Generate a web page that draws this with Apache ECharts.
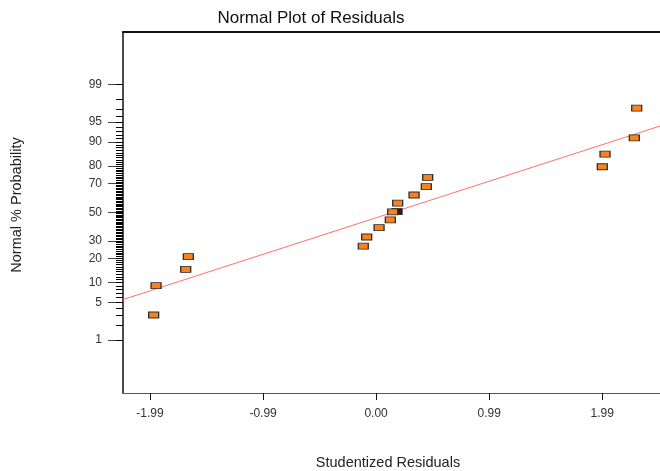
<!DOCTYPE html>
<html>
<head>
<meta charset="utf-8">
<script src="https://cdn.jsdelivr.net/npm/echarts@6/dist/echarts.min.js"></script>
<style>
  html, body { margin: 0; padding: 0; background: #fff; }
  #chart { width: 660px; height: 471px; }
</style>
</head>
<body>
<div id="chart"></div>
<script>
// Studentized residuals (sorted) and their normal % probability
const residuals = [-1.958, -1.937, -1.676, -1.653, -0.113, -0.083, 0.026, 0.125, 0.146,
                   0.190, 0.334, 0.442, 0.454, 1.991, 2.015, 2.273, 2.294];
const normalPct = [3.07, 9.06, 14.94, 20.9, 26.9, 32.6, 38.9, 44.4, 50.2,
                   56.6, 62.3, 67.9, 73.7, 79.6, 85.5, 91.2, 97.1];

// point drawn dark, mostly covered by the median marker
const shadedResiduals = [0.184];
const shadedPct = [50.5];

// reference line end points
const lineResiduals = [-2.228, 2.543];
const linePct = [5.6, 94.5];

// axis ticks
const xTickValues = [-1.99, -0.995, 0, 0.995, 1.99];
const xTickLabels = ['-1.99', '-0.99', '0.00', '0.99', '1.99'];
const yLabelPct = [1, 5, 10, 20, 30, 50, 70, 80, 90, 95, 99];
const yMinorPct = Array.from({ length: 99 }, (_, i) => i + 1);

// inverse standard normal CDF (Acklam's rational approximation)
function probit(p) {
  const a = [-3.969683028665376e+01, 2.209460984245205e+02, -2.759285104469687e+02,
             1.383577518672690e+02, -3.066479806614716e+01, 2.506628277459239e+00];
  const b = [-5.447609879822406e+01, 1.615858368580409e+02, -1.556989798598866e+02,
             6.680131188771972e+01, -1.328068155288572e+01];
  const c = [-7.784894002430293e-03, -3.223964580411365e-01, -2.400758277161838e+00,
             -2.549732539343734e+00, 4.374664141464968e+00, 2.938163982698783e+00];
  const d = [7.784695709041462e-03, 3.224671290700398e-01, 2.445134137142996e+00,
             3.754408661907416e+00];
  const pl = 0.02425, ph = 1 - pl;
  let q, r;
  if (p < pl) {
    q = Math.sqrt(-2 * Math.log(p));
    return (((((c[0]*q + c[1])*q + c[2])*q + c[3])*q + c[4])*q + c[5]) /
           ((((d[0]*q + d[1])*q + d[2])*q + d[3])*q + 1);
  }
  if (p > ph) {
    q = Math.sqrt(-2 * Math.log(1 - p));
    return -(((((c[0]*q + c[1])*q + c[2])*q + c[3])*q + c[4])*q + c[5]) /
            ((((d[0]*q + d[1])*q + d[2])*q + d[3])*q + 1);
  }
  q = p - 0.5; r = q * q;
  return (((((a[0]*r + a[1])*r + a[2])*r + a[3])*r + a[4])*r + a[5]) * q /
         (((((b[0]*r + b[1])*r + b[2])*r + b[3])*r + b[4])*r + 1);
}
const z = pct => probit(pct / 100);

const yLabelZ = yLabelPct.map(z);
const yMinorZ = yMinorPct.map(z);

function nearestLabel(v, values, labels) {
  let best = 0;
  values.forEach((t, i) => { if (Math.abs(t - v) < Math.abs(values[best] - v)) best = i; });
  return labels[best];
}

const X_MIN = -2.228, X_MAX = 2.543, Z_MIN = -3.29, Z_MAX = 3.28;

const chart = echarts.init(document.getElementById('chart'), null, { renderer: 'canvas' });
chart.setOption({
  animation: false,
  backgroundColor: '#fff',
  textStyle: { fontFamily: 'Liberation Sans, Arial, sans-serif' },
  grid: { left: 123, top: 32, right: -5, bottom: 78, outerBoundsMode: 'none', containLabel: false },
  xAxis: [
    {
      type: 'value', position: 'bottom', min: X_MIN, max: X_MAX,
      axisLine: { show: true, onZero: false, lineStyle: { color: '#555', width: 1 } },
      axisTick: { show: true, customValues: xTickValues, length: 7, lineStyle: { color: '#111', width: 1 } },
      axisLabel: {
        customValues: xTickValues, margin: 15, fontSize: 12, color: '#333',
        formatter: v => nearestLabel(v, xTickValues, xTickLabels)
      },
      splitLine: { show: false }
    },
    {
      type: 'value', position: 'top', min: X_MIN, max: X_MAX,
      axisLine: { show: true, onZero: false, lineStyle: { color: '#111', width: 2 } },
      axisTick: { show: false }, axisLabel: { show: false }, splitLine: { show: false }
    }
  ],
  yAxis: [
    {
      type: 'value', position: 'left', offset: 0, min: Z_MIN, max: Z_MAX,
      axisLine: { show: true, onZero: false, lineStyle: { color: '#111', width: 1.5 } },
      axisTick: { show: true, customValues: yLabelZ, length: 15, lineStyle: { color: '#444', width: 1 } },
      axisLabel: {
        customValues: yLabelZ, margin: 21, fontSize: 12, color: '#333',
        formatter: v => String(nearestLabel(v, yLabelZ, yLabelPct))
      },
      splitLine: { show: false }
    },
    {
      type: 'value', position: 'left', offset: 0, min: Z_MIN, max: Z_MAX,
      axisLine: { show: false, onZero: false },
      axisTick: { show: true, customValues: yMinorZ, length: 7, lineStyle: { color: '#000', width: 1 } },
      axisLabel: { show: false },
      splitLine: { show: false }
    }
  ],
  series: [
    {
      type: 'line', silent: true, symbol: 'none', z: 1,
      data: lineResiduals.map((x, i) => [x, z(linePct[i])]),
      lineStyle: { color: '#ff6f6f', width: 1 }
    },
    {
      type: 'scatter', silent: true, symbol: 'rect', symbolSize: [10, 6], z: 2,
      data: shadedResiduals.map((x, i) => [x, z(shadedPct[i])]),
      itemStyle: { color: '#3a1a08', borderColor: '#222', borderWidth: 1, opacity: 1 }
    },
    {
      type: 'scatter', silent: true, symbol: 'rect', symbolSize: [10, 6], z: 3,
      data: residuals.map((x, i) => [x, z(normalPct[i])]),
      itemStyle: { color: '#f7821e', borderColor: '#2b2b2b', borderWidth: 1, opacity: 1 }
    }
  ],
  graphic: [
    {
      type: 'text', x: 311, y: 18.5,
      style: { text: 'Normal Plot of Residuals', font: '17px "Liberation Sans", Arial, sans-serif',
               fill: '#111', textAlign: 'center', textVerticalAlign: 'middle' }
    },
    {
      type: 'text', x: 388, y: 463,
      style: { text: 'Studentized Residuals', font: '14.5px "Liberation Sans", Arial, sans-serif',
               fill: '#222', textAlign: 'center', textVerticalAlign: 'middle' }
    },
    {
      type: 'text', x: 17, y: 205, rotation: Math.PI / 2,
      style: { text: 'Normal % Probability', font: '14.5px "Liberation Sans", Arial, sans-serif',
               fill: '#222', textAlign: 'center', textVerticalAlign: 'middle' }
    }
  ]
});
</script>
</body>
</html>
